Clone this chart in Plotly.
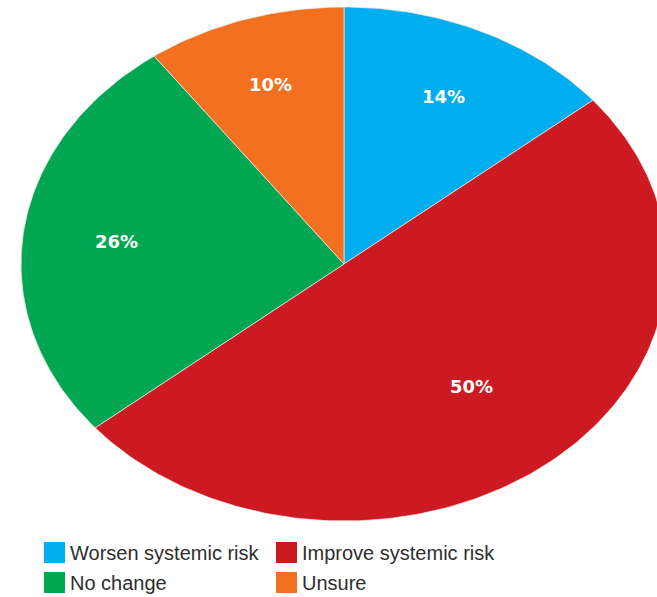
import numpy as np
import plotly.graph_objects as go

# Survey responses: effect on systemic risk
categories = ["Worsen systemic risk", "Improve systemic risk", "No change", "Unsure"]
shares = [14, 50, 26, 10]
colors = ["#00AEEF", "#CD1A22", "#00A651", "#F37021"]
label_radius = [0.72, 0.62, 0.71, 0.735]

W, H = 657, 597
cx, cy, rx, ry = 344, 264, 323, 257  # pixel geometry of the pie ellipse

fig = go.Figure()

total = sum(shares)
start = 0.0
for name, val, col, lr in zip(categories, shares, colors, label_radius):
    a0 = start / total * 2 * np.pi
    a1 = (start + val) / total * 2 * np.pi
    t = np.linspace(a0, a1, max(int(val * 4), 8))
    # angles measured clockwise from 12 o'clock
    xs = np.concatenate([[0], np.sin(t), [0]])
    ys = np.concatenate([[0], np.cos(t), [0]])
    fig.add_trace(go.Scatter(
        x=xs, y=ys, mode="lines", fill="toself", fillcolor=col,
        line=dict(color="rgba(235,235,235,0.9)", width=0.8),
        hoverinfo="skip", showlegend=False, name=name,
    ))
    mid = (a0 + a1) / 2
    fig.add_annotation(
        x=lr * np.sin(mid), y=lr * np.cos(mid), text=f"<b>{val}%</b>",
        showarrow=False, font=dict(family="DejaVu Sans", size=18, color="white"),
    )
    start += val

# Legend: two columns of colour swatches with labels
col_x = [44, 276]
row_y = [542, 572]
for i, (name, col) in enumerate(zip(categories, colors)):
    x0 = col_x[i % 2]
    y0 = row_y[i // 2]
    fig.add_shape(
        type="rect", xref="paper", yref="paper",
        x0=x0 / W, x1=(x0 + 21) / W, y0=1 - (y0 + 21) / H, y1=1 - y0 / H,
        fillcolor=col, line=dict(width=0),
    )
    fig.add_annotation(
        xref="paper", yref="paper", x=(x0 + 24) / W, y=1 - (y0 + 11) / H,
        xanchor="left", yanchor="middle", showarrow=False, text=name,
        font=dict(family="Liberation Sans, Arial", size=20, color="#2e2e2e"),
    )

fig.update_layout(
    width=W, height=H,
    margin=dict(l=0, r=0, t=0, b=0),
    paper_bgcolor="white", plot_bgcolor="white",
    xaxis=dict(range=[-cx / rx, (W - cx) / rx], visible=False, fixedrange=True),
    yaxis=dict(range=[(cy - H) / ry, cy / ry], visible=False, fixedrange=True),
    showlegend=False,
)

fig.write_html("out.html")
